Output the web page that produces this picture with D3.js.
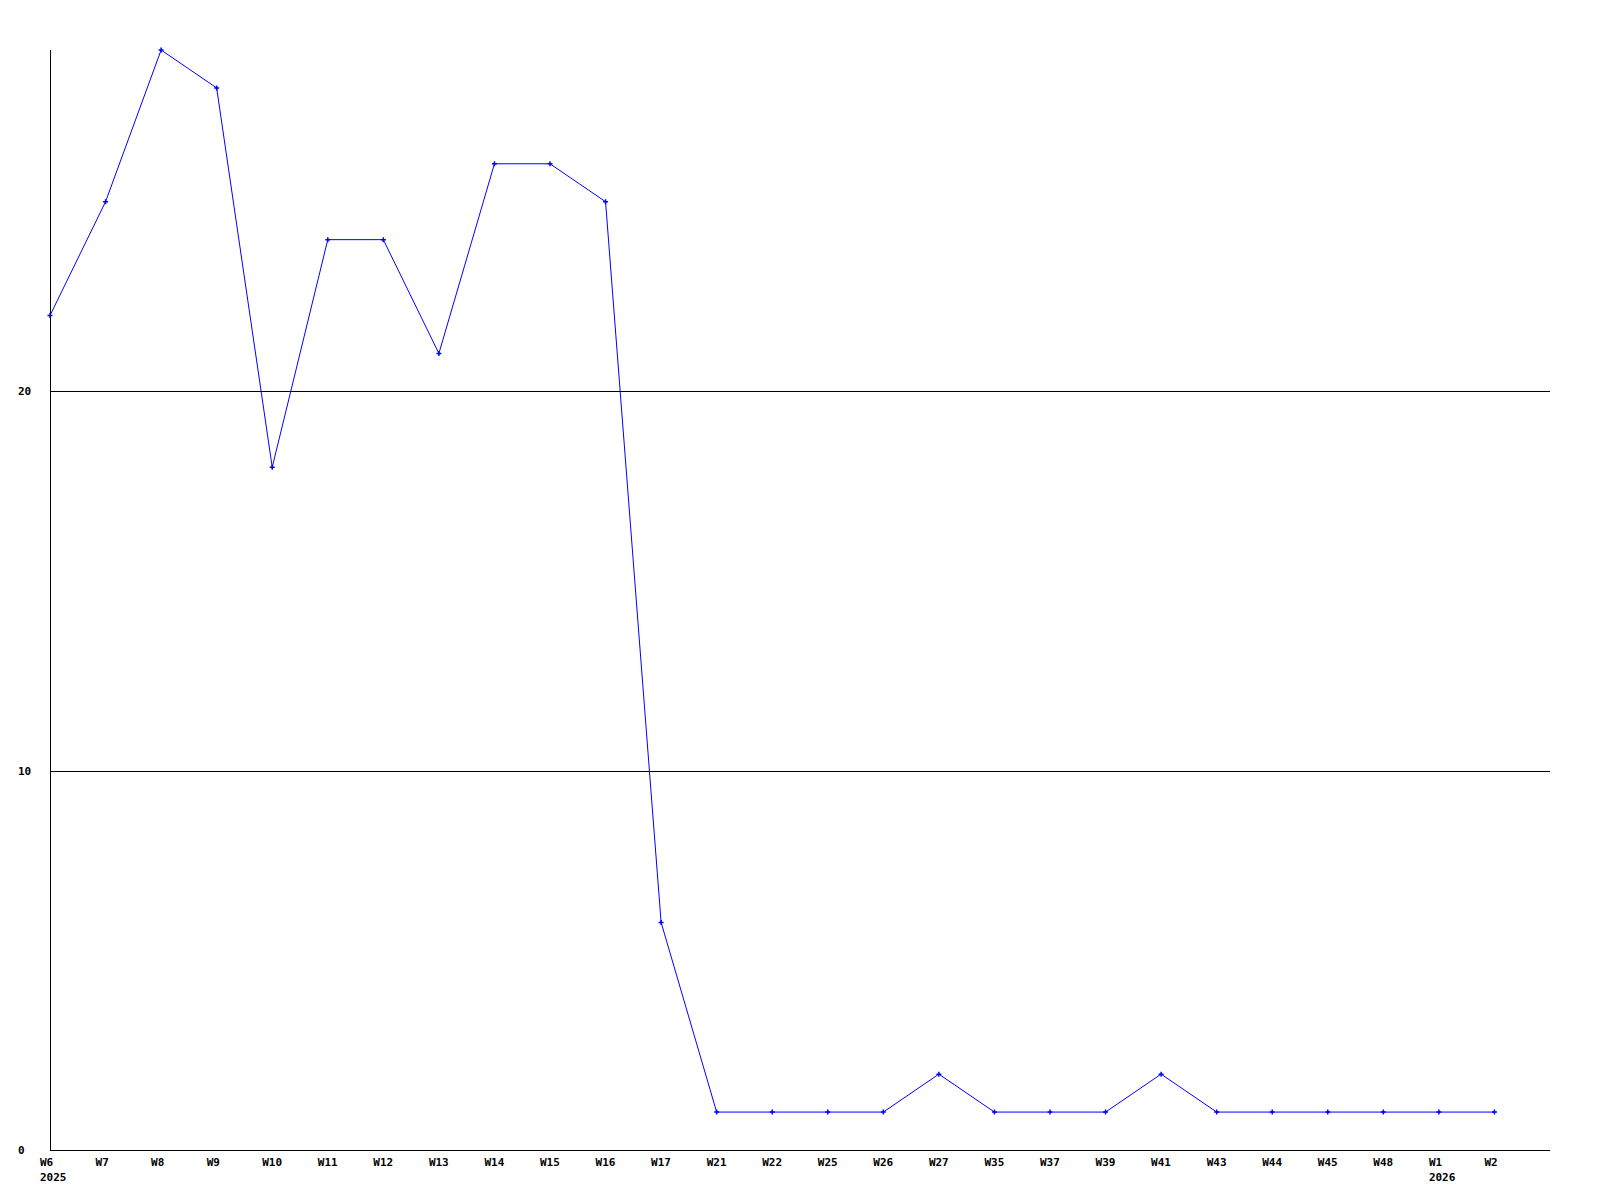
<!DOCTYPE html>
<html><head><meta charset="utf-8">
<script src="https://cdn.jsdelivr.net/npm/d3@7"></script>
<style>body{margin:0;background:#fff}svg text{font-family:"DejaVu Sans Mono",monospace;font-weight:bold;font-size:11px;fill:#000}</style>
</head><body><svg id="c" width="1600" height="1200"></svg>
<script>
const weeks = ["W6","W7","W8","W9","W10","W11","W12","W13","W14","W15","W16","W17","W21","W22","W25","W26","W27","W35","W37","W39","W41","W43","W44","W45","W48","W1","W2"];
const years = {"W6":"2025","W1":"2026"};
const values = [22,25,29,28,18,24,24,21,26,26,25,6,1,1,1,1,2,1,1,1,2,1,1,1,1,1,1];
const yTicks = [0,10,20];

const svg = d3.select("#c");
const L=50,R=1550,T=50,B=1150;
const x = d3.scaleLinear().domain([0,weeks.length]).range([L,R]);
const y = d3.scaleLinear().domain([0,29]).range([B,T]);

svg.selectAll("line.g").data(yTicks.filter(d=>d>0)).join("line")
  .attr("x1",L).attr("x2",R).attr("y1",d=>Math.round(y(d))+0.5).attr("y2",d=>Math.round(y(d))+0.5)
  .attr("stroke","#000").attr("stroke-width",1);
svg.append("line").attr("x1",L+0.5).attr("x2",L+0.5).attr("y1",T).attr("y2",B).attr("stroke","#000");
svg.append("line").attr("x1",L).attr("x2",R).attr("y1",B+0.5).attr("y2",B+0.5).attr("stroke","#000");
svg.selectAll("text.y").data(yTicks).join("text")
  .attr("x",18).attr("y",d=>y(d)).attr("dy","0.35em").text(d=>d);
svg.selectAll("text.x").data(weeks).join("text")
  .attr("x",(d,i)=>x(i)-10).attr("y",B+16).text(d=>d);
svg.selectAll("text.yr").data(weeks.filter(w=>years[w])).join("text")
  .attr("x",d=>x(weeks.indexOf(d))-10).attr("y",B+31).text(d=>years[d]);
const line = d3.line().x((d,i)=>x(i)).y(d=>y(d));
svg.append("path").datum(values).attr("d",line).attr("fill","none").attr("stroke","#0000ff").attr("stroke-width",1);
svg.selectAll("path.m").data(values).join("path")
  .attr("transform",(d,i)=>`translate(${x(i)},${y(d)})`)
  .attr("d","M-2.5,0H2.5M0,-2.5V2.5").attr("stroke","#0000ff").attr("stroke-width",1.5).attr("fill","none");
</script></body></html>
